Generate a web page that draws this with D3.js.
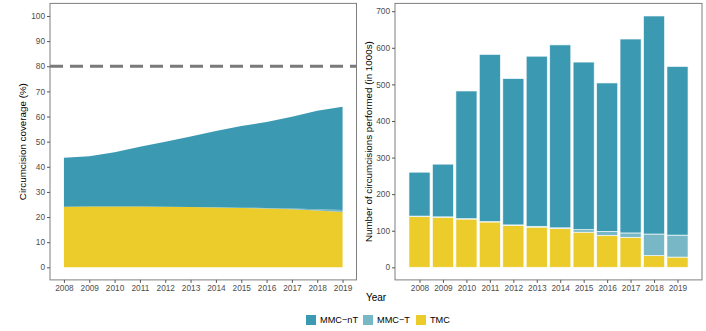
<!DOCTYPE html>
<html><head><meta charset="utf-8">
<script src="https://cdn.jsdelivr.net/npm/d3@7"></script>
<style>body{margin:0;background:#fff}svg{display:block;font-family:"Liberation Sans",Arial,sans-serif}</style>
</head><body><svg id="c" width="706" height="331"></svg>
<script>
const years = [2008,2009,2010,2011,2012,2013,2014,2015,2016,2017,2018,2019];
// Coverage (%) per series
const covTMC   = [24.1,24.2,24.2,24.2,24.1,24.0,23.8,23.6,23.4,23.1,22.6,22.0];
const covMMCT  = [0,0,0,0,0,0.05,0.1,0.15,0.2,0.3,0.5,0.8];
const covMMCnT = [19.5,20.0,21.6,23.8,25.9,27.95,30.3,32.45,34.2,36.5,39.2,41.1];
// Number of circumcisions (in 1000s)
const numTMC   = [139,137,132,124,115,110,106,96,87,82,32,28];
const numMMCT  = [1,1,1,1,1,2,2,7,11,12,59,60];
const numMMCnT = [120,144,349,457,400,465,500,458,406,530,596,461];
const seriesNames = ["TMC","MMC\u2212T","MMC\u2212nT"];
const legendOrder = ["MMC\u2212nT","MMC\u2212T","TMC"];
const colors = {"MMC\u2212nT":"#3B9AB2","MMC\u2212T":"#78B7C5","TMC":"#EBCC2A"};
const covTicks = [0,10,20,30,40,50,60,70,80,90,100];
const numTicks = [0,100,200,300,400,500,600,700];
const target = 80;

const svg = d3.select("#c");
const tickCol = "#4D4D4D", borderCol = "#7F7F7F";

function rows(a,b,c){return years.map((y,i)=>({year:y,"TMC":a[i],"MMC\u2212T":b[i],"MMC\u2212nT":c[i]}));}

// ---- left panel
const L = {x0:50, x1:356.5, y0:3.4, y1:279.9};
const xL = d3.scaleLinear().domain([2008-0.55, 2019+0.55]).range([L.x0, L.x1]);
const yL = d3.scaleLinear().domain([-5,105]).range([L.y1, L.y0]);
const covStack = d3.stack().keys(seriesNames)(rows(covTMC,covMMCT,covMMCnT));
const area = d3.area().x(d=>xL(d.data.year)).y0(d=>yL(d[0])).y1(d=>yL(d[1]));
const gL = svg.append("g");
gL.selectAll("path.a").data(covStack).join("path").attr("d",area).attr("fill",d=>colors[d.key]);
gL.append("line").attr("x1",L.x0).attr("x2",L.x1).attr("y1",yL(target)).attr("y2",yL(target))
  .attr("stroke","#7a7a7a").attr("stroke-width",3).attr("stroke-dasharray","13,7");
gL.append("rect").attr("x",L.x0).attr("y",L.y0).attr("width",L.x1-L.x0).attr("height",L.y1-L.y0)
  .attr("fill","none").attr("stroke",borderCol).attr("stroke-width",1);
svg.append("g").attr("transform",`translate(${L.x0},0)`)
  .call(d3.axisLeft(yL).tickValues(covTicks).tickSize(3).tickPadding(2));
svg.append("g").attr("transform",`translate(0,${L.y1})`)
  .call(d3.axisBottom(xL).tickValues(years).tickFormat(d3.format("d")).tickSize(3).tickPadding(2));

// ---- right panel
const R = {x0:395, x1:702, y0:3.4, y1:279.9};
const xR = d3.scaleLinear().domain([2007.55-0.595, 2019.45+0.595]).range([R.x0, R.x1]);
const yR = d3.scaleLinear().domain([-34.35, 721.35]).range([R.y1, R.y0]);
const numStack = d3.stack().keys(seriesNames)(rows(numTMC,numMMCT,numMMCnT));
const gR = svg.append("g");
const bw = xR(0.9)-xR(0);
gR.selectAll("g.s").data(numStack).join("g").attr("fill",d=>colors[d.key])
  .selectAll("rect").data(d=>d).join("rect")
  .attr("x",d=>xR(d.data.year-0.45)).attr("width",bw)
  .attr("y",d=>yR(d[1])).attr("height",d=>yR(d[0])-yR(d[1]))
  .attr("stroke","#fff").attr("stroke-width",0.8).attr("stroke-opacity",0.8);
gR.append("rect").attr("x",R.x0).attr("y",R.y0).attr("width",R.x1-R.x0).attr("height",R.y1-R.y0)
  .attr("fill","none").attr("stroke",borderCol).attr("stroke-width",1);
svg.append("g").attr("transform",`translate(${R.x0},0)`)
  .call(d3.axisLeft(yR).tickValues(numTicks).tickSize(3).tickPadding(2));
svg.append("g").attr("transform",`translate(0,${R.y1})`)
  .call(d3.axisBottom(xR).tickValues(years).tickFormat(d3.format("d")).tickSize(3).tickPadding(2));

svg.selectAll(".domain").remove();
svg.selectAll(".tick line").attr("stroke","#555");
svg.selectAll(".tick text").attr("fill",tickCol).style("font-size","8.3px").style("font-family","Liberation Sans, Arial, sans-serif");

// axis titles
svg.append("text").attr("transform",`translate(26,${(L.y0+L.y1)/2}) rotate(-90)`)
  .attr("text-anchor","middle").style("font-size","9.8px").attr("fill","#000").text("Circumcision coverage (%)");
svg.append("text").attr("transform",`translate(372,${(R.y0+R.y1)/2}) rotate(-90)`)
  .attr("text-anchor","middle").style("font-size","9.8px").attr("fill","#000").text("Number of circumcisions performed (in 1000s)");
svg.append("text").attr("x",376).attr("y",301).attr("text-anchor","middle").style("font-size","10px").attr("fill","#000").text("Year");

// legend
const lx = [306, 363, 416];
const lg = svg.append("g");
legendOrder.forEach((k,i)=>{
  lg.append("rect").attr("x",lx[i]).attr("y",315).attr("width",10).attr("height",10).attr("fill",colors[k]);
  lg.append("text").attr("x",lx[i]+14).attr("y",323.3).style("font-size","9.2px").attr("fill","#000").text(k);
});
</script></body></html>
